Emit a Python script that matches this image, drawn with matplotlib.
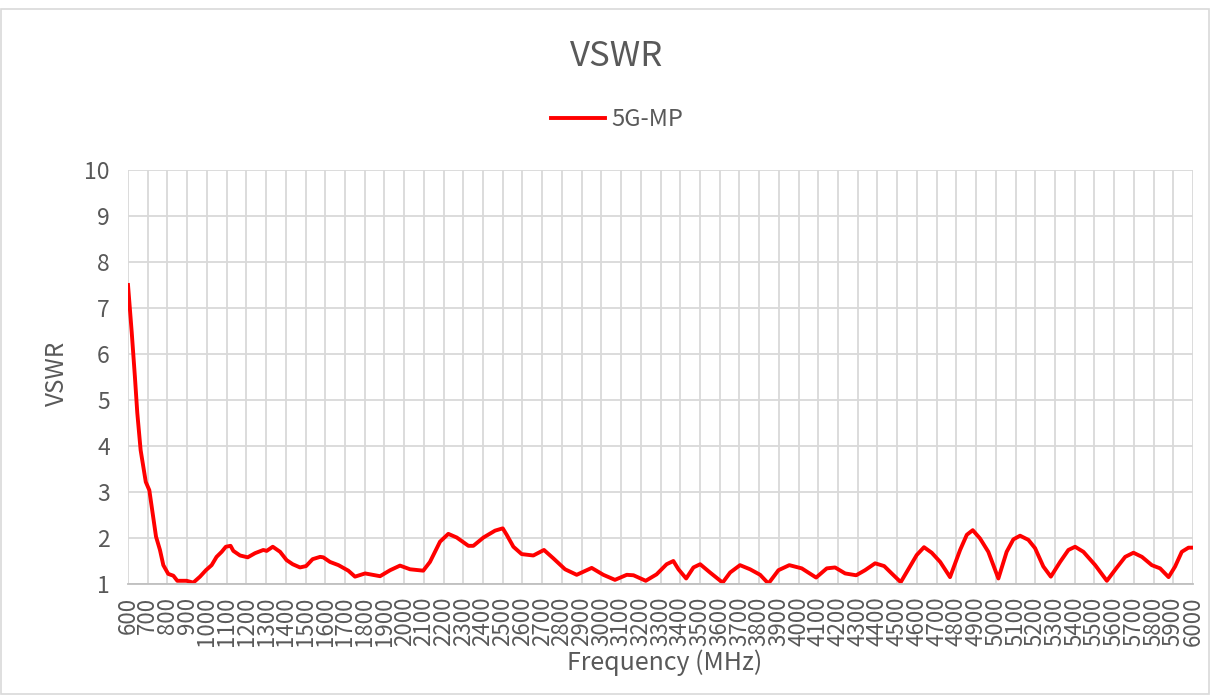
import matplotlib
matplotlib.use('Agg')
import matplotlib.pyplot as plt
from matplotlib.patches import Rectangle

plt.rcParams['font.family'] = ['Noto Sans CJK SC', 'DejaVu Sans']

# 频率 (MHz) 与 VSWR
freq = [600, 619, 635, 647, 664, 690, 708, 725, 742, 762, 779, 804, 830, 850, 897, 931,
        965, 995, 1024, 1049, 1075, 1096, 1120, 1134, 1168, 1207, 1244, 1286, 1303, 1334,
        1371, 1404, 1435, 1472, 1503, 1536, 1574, 1590, 1624, 1667, 1717, 1751, 1802, 1878,
        1929, 1979, 2030, 2097, 2131, 2182, 2224, 2267, 2326, 2351, 2402, 2461, 2500, 2520,
        2554, 2596, 2655, 2709, 2756, 2816, 2875, 2951, 3010, 3069, 3129, 3163, 3225, 3280,
        3331, 3365, 3391, 3430, 3467, 3501, 3551, 3615, 3653, 3703, 3754, 3805, 3847, 3898,
        3953, 4016, 4089, 4143, 4185, 4236, 4292, 4337, 4388, 4434, 4472, 4518, 4565, 4599,
        4636, 4675, 4718, 4768, 4819, 4853, 4883, 4920, 4962, 5013, 5055, 5089, 5123, 5165,
        5199, 5241, 5279, 5326, 5368, 5402, 5444, 5504, 5563, 5614, 5656, 5698, 5741, 5791,
        5833, 5876, 5909, 5943, 5977, 6000]
vswr = [7.50, 6.46, 5.50, 4.72, 3.91, 3.22, 3.04, 2.54, 2.03, 1.74, 1.41, 1.22, 1.18, 1.07, 1.07, 1.03,
        1.16, 1.30, 1.41, 1.59, 1.70, 1.81, 1.83, 1.72, 1.62, 1.58, 1.67, 1.74, 1.72, 1.81,
        1.70, 1.52, 1.43, 1.36, 1.39, 1.54, 1.59, 1.58, 1.48, 1.41, 1.29, 1.16, 1.23, 1.17,
        1.30, 1.40, 1.32, 1.29, 1.48, 1.92, 2.09, 2.01, 1.83, 1.83, 2.01, 2.16, 2.21, 2.07,
        1.81, 1.65, 1.62, 1.74, 1.56, 1.32, 1.20, 1.35, 1.20, 1.09, 1.20, 1.19, 1.07, 1.21,
        1.43, 1.50, 1.32, 1.12, 1.36, 1.43, 1.25, 1.03, 1.25, 1.41, 1.32, 1.20, 1.01, 1.30,
        1.41, 1.34, 1.14, 1.34, 1.36, 1.23, 1.19, 1.30, 1.45, 1.39, 1.23, 1.04, 1.38, 1.63,
        1.80, 1.68, 1.48, 1.15, 1.74, 2.07, 2.17, 1.99, 1.70, 1.12, 1.70, 1.97, 2.05, 1.96,
        1.78, 1.38, 1.16, 1.48, 1.74, 1.81, 1.70, 1.41, 1.07, 1.36, 1.59, 1.68, 1.59, 1.41,
        1.34, 1.15, 1.38, 1.70, 1.79, 1.79]
xticks = list(range(600, 6001, 100))
yticks = list(range(1, 11))

txt = '#595959'
grid = '#D9D9D9'

fig = plt.figure(figsize=(12.18, 6.95), dpi=100)
fig.patches.append(Rectangle((0.001, 0.001), 0.992, 0.986, transform=fig.transFigure,
                             fill=False, edgecolor=grid, linewidth=1.2))
ax = fig.add_axes([0.1051, 0.1597, 0.8744, 0.5957])

ax.plot(freq, vswr, color='#FF0000', linewidth=2.8, label='5G-MP', solid_joinstyle='round')

ax.set_xlim(600, 6000)
ax.set_ylim(1, 10)
ax.set_xticks(xticks)
ax.set_xticklabels([str(t) for t in xticks], rotation=90, fontsize=16, color=txt)
ax.set_yticks(yticks)
ax.set_yticklabels([str(t) for t in yticks], fontsize=16.5, color=txt)
ax.tick_params(axis='x', length=0, pad=9)
ax.tick_params(axis='y', length=0, pad=13)
ax.grid(True, color=grid, linewidth=1.3)
ax.set_axisbelow(True)
for s in ['top', 'right', 'left']:
    ax.spines[s].set_visible(False)
ax.spines['bottom'].set_color('#BFBFBF')
ax.spines['bottom'].set_linewidth(1.3)

# 坐标轴标题、图表标题、图例
fig.text(665 / 1218, 1 - 663 / 695, 'Frequency (MHz)', ha='center', va='center',
         fontsize=18, color=txt)
fig.text(57 / 1218, 1 - 373 / 695, 'VSWR', ha='center', va='center', rotation=90,
         fontsize=17.5, color=txt)
fig.text(0.5065, 0.918, 'VSWR', ha='center', va='center', fontsize=25, color=txt)
fig.legend(loc='center left', bbox_to_anchor=(551 / 1218, 1 - 120 / 695), frameon=False,
           fontsize=17, handlelength=2.3, handletextpad=0.25, borderpad=0, borderaxespad=0,
           labelcolor=txt)

fig.savefig('out.png', dpi=100)
